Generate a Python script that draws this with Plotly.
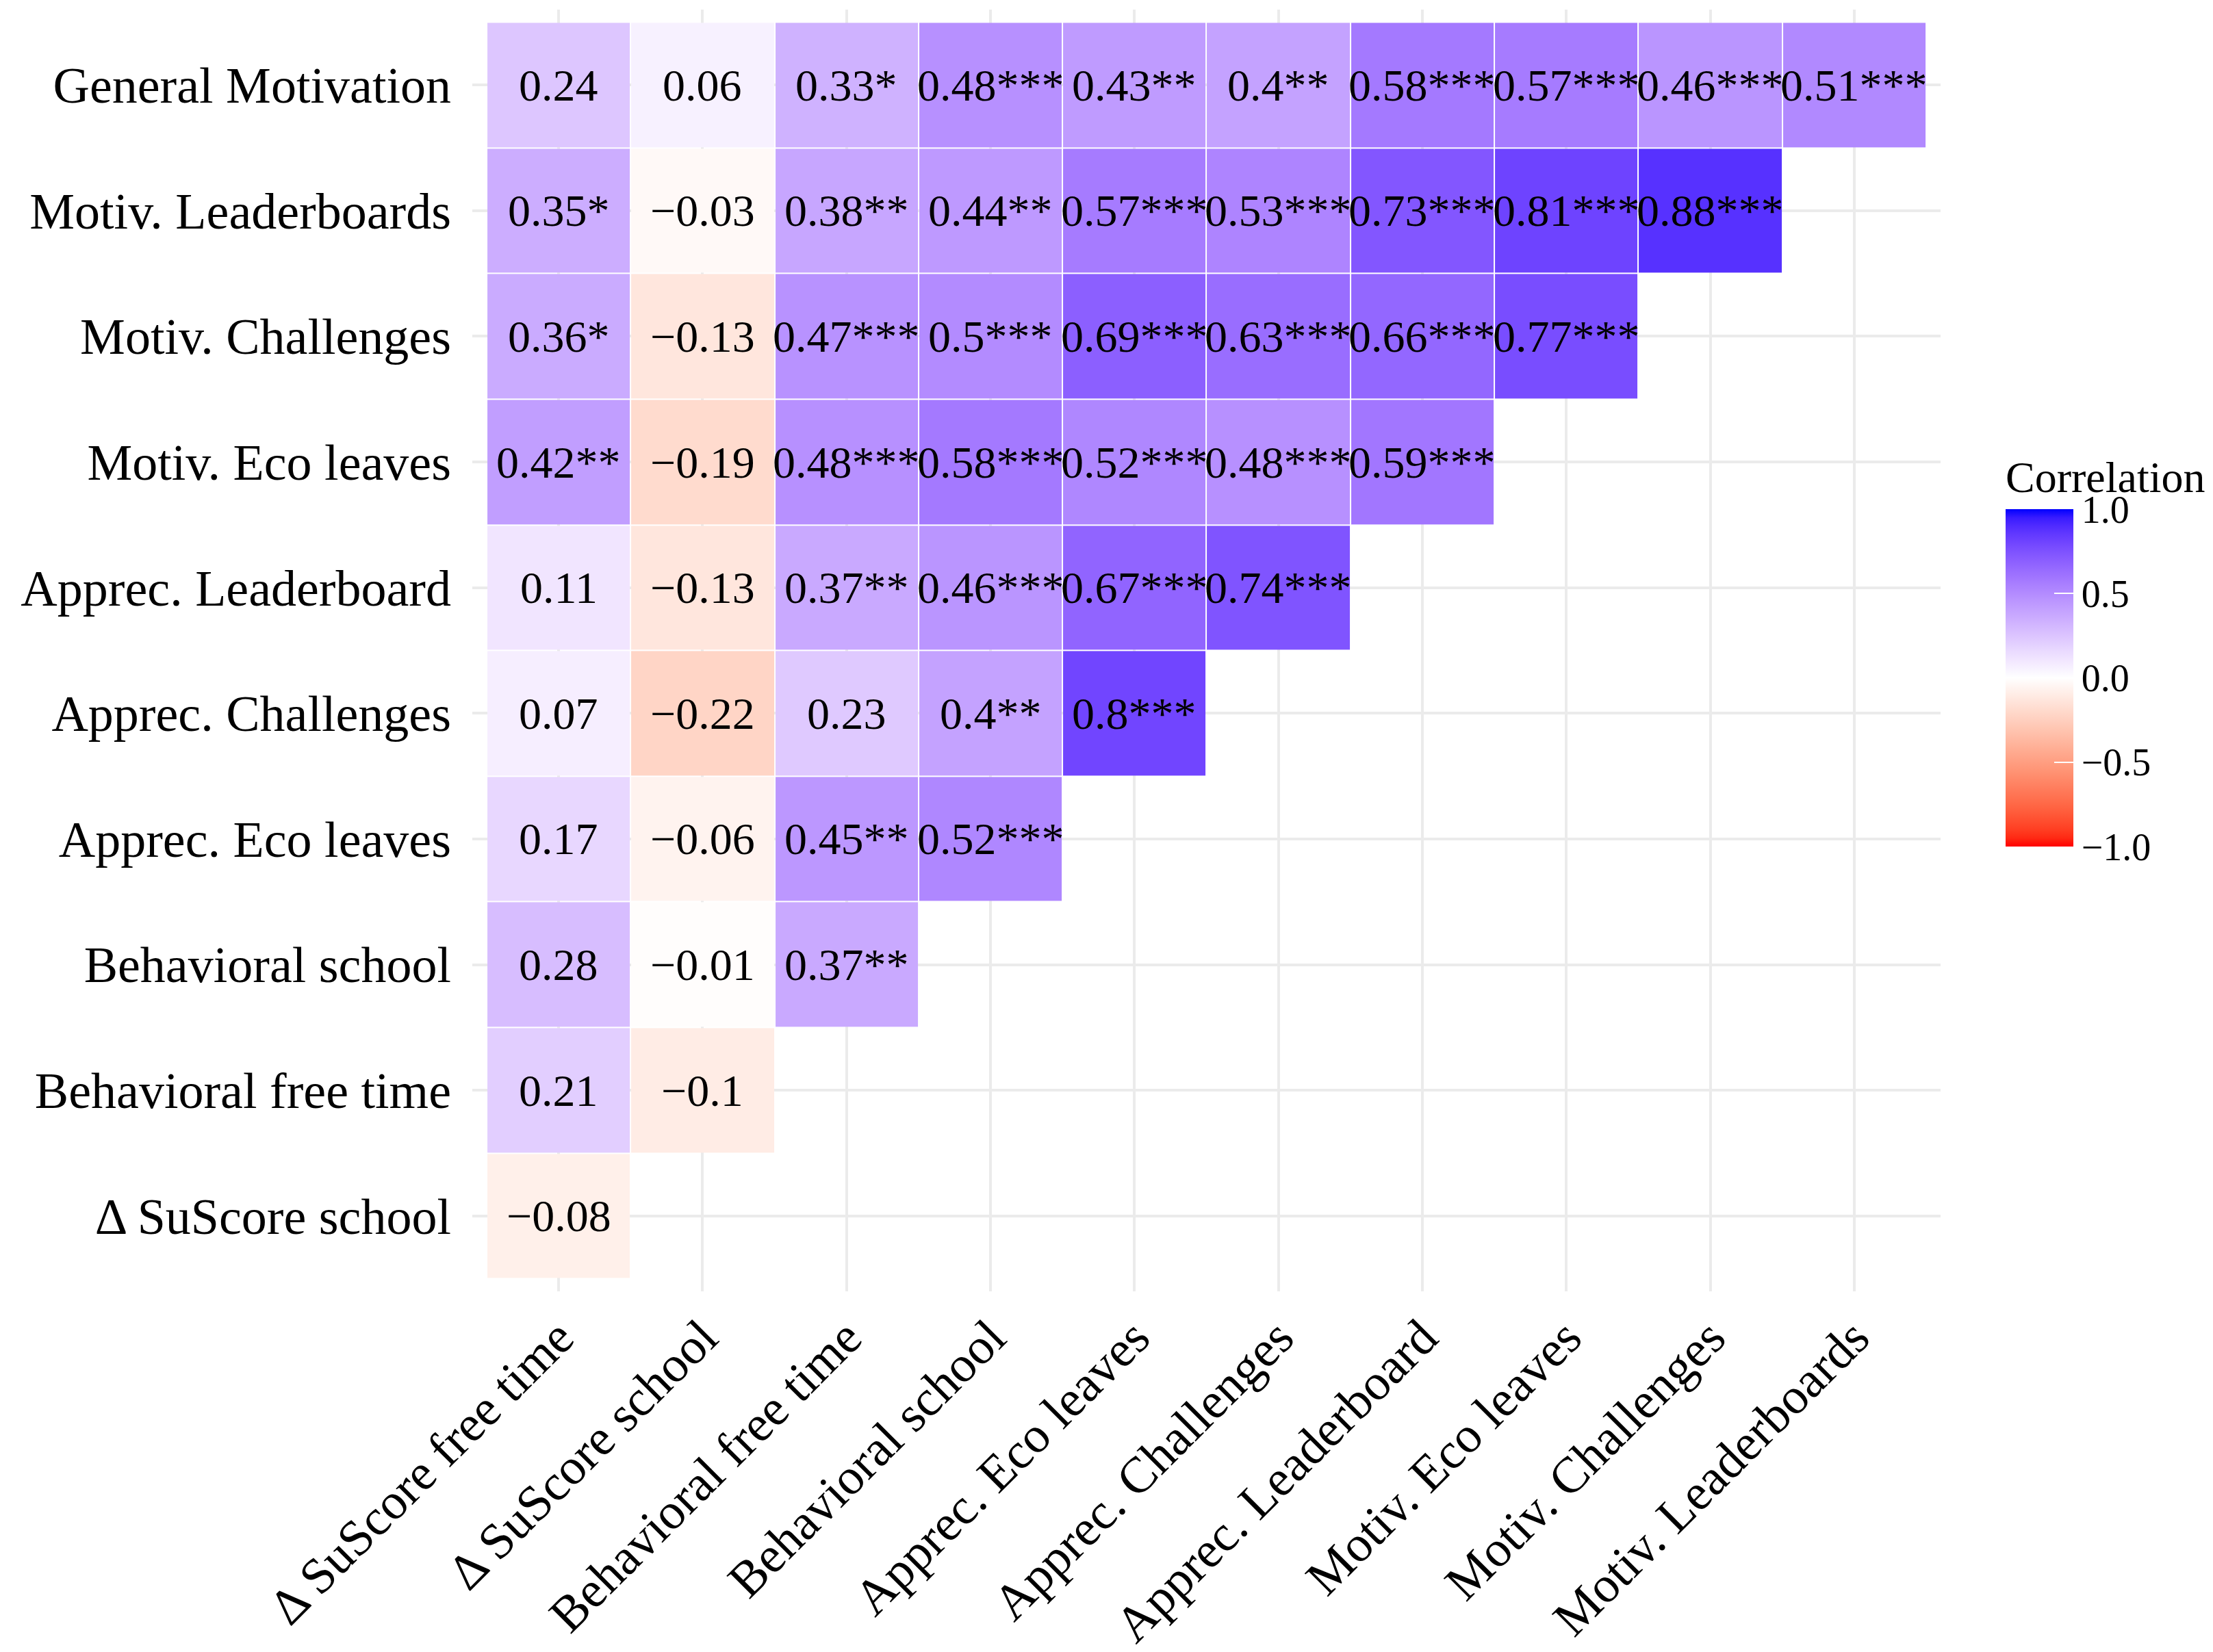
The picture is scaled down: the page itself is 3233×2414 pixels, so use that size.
import numpy as np
import plotly.graph_objects as go

# ---------------- data ----------------
row_labels = ["General Motivation", "Motiv. Leaderboards", "Motiv. Challenges",
              "Motiv. Eco leaves", "Apprec. Leaderboard", "Apprec. Challenges",
              "Apprec. Eco leaves", "Behavioral school", "Behavioral free time",
              "Δ SuScore school"]
col_labels = ["Δ SuScore free time", "Δ SuScore school", "Behavioral free time",
              "Behavioral school", "Apprec. Eco leaves", "Apprec. Challenges",
              "Apprec. Leaderboard", "Motiv. Eco leaves", "Motiv. Challenges",
              "Motiv. Leaderboards"]

r_general_motivation = [0.24, 0.06, 0.33, 0.48, 0.43, 0.40, 0.58, 0.57, 0.46, 0.51]
s_general_motivation = ["", "", "*", "***", "**", "**", "***", "***", "***", "***"]
r_motiv_leaderboards = [0.35, -0.03, 0.38, 0.44, 0.57, 0.53, 0.73, 0.81, 0.88]
s_motiv_leaderboards = ["*", "", "**", "**", "***", "***", "***", "***", "***"]
r_motiv_challenges = [0.36, -0.13, 0.47, 0.50, 0.69, 0.63, 0.66, 0.77]
s_motiv_challenges = ["*", "", "***", "***", "***", "***", "***", "***"]
r_motiv_eco = [0.42, -0.19, 0.48, 0.58, 0.52, 0.48, 0.59]
s_motiv_eco = ["**", "", "***", "***", "***", "***", "***"]
r_apprec_leader = [0.11, -0.13, 0.37, 0.46, 0.67, 0.74]
s_apprec_leader = ["", "", "**", "***", "***", "***"]
r_apprec_chall = [0.07, -0.22, 0.23, 0.40, 0.80]
s_apprec_chall = ["", "", "", "**", "***"]
r_apprec_eco = [0.17, -0.06, 0.45, 0.52]
s_apprec_eco = ["", "", "**", "***"]
r_behav_school = [0.28, -0.01, 0.37]
s_behav_school = ["", "", "**"]
r_behav_free = [0.21, -0.10]
s_behav_free = ["", ""]
r_suscore_school = [-0.08]
s_suscore_school = [""]

rows_r = [r_general_motivation, r_motiv_leaderboards, r_motiv_challenges, r_motiv_eco,
          r_apprec_leader, r_apprec_chall, r_apprec_eco, r_behav_school, r_behav_free,
          r_suscore_school]
rows_s = [s_general_motivation, s_motiv_leaderboards, s_motiv_challenges, s_motiv_eco,
          s_apprec_leader, s_apprec_chall, s_apprec_eco, s_behav_school, s_behav_free,
          s_suscore_school]

n = len(col_labels)
z = np.full((len(row_labels), n), np.nan)
tx, ty, tt = [], [], []


def fmt(v):
    s = f"{v:.2f}".rstrip("0").rstrip(".") if v != 0 else "0"
    return s.replace("-", "\u2212")


for i, (vals, stars) in enumerate(zip(rows_r, rows_s)):
    for j, (v, st) in enumerate(zip(vals, stars)):
        z[i, j] = v
        tx.append(j)
        ty.append(i)
        tt.append(fmt(v) + st)

# ---------------- colour scale (Lab interpolation red-white-blue) ----------------
def srgb_to_lin(c):
    c = c / 255.0
    return np.where(c <= 0.04045, c / 12.92, ((c + 0.055) / 1.055) ** 2.4)


def lin_to_srgb(c):
    c = np.clip(c, 0, 1)
    return 255 * np.where(c <= 0.0031308, 12.92 * c, 1.055 * c ** (1 / 2.4) - 0.055)


M = np.array([[0.4124, 0.3576, 0.1805], [0.2126, 0.7152, 0.0722], [0.0193, 0.1192, 0.9505]])
Minv = np.linalg.inv(M)
WHITE = M @ np.ones(3)


def f(t):
    d = 6 / 29
    return np.where(t > d ** 3, np.cbrt(t), t / (3 * d * d) + 4 / 29)


def finv(t):
    d = 6 / 29
    return np.where(t > d, t ** 3, 3 * d * d * (t - 4 / 29))


def rgb_to_lab(rgb):
    xyz = M @ srgb_to_lin(np.array(rgb, float)) / WHITE
    fx, fy, fz = f(xyz)
    return np.array([116 * fy - 16, 500 * (fx - fy), 200 * (fy - fz)])


def lab_to_rgb(lab):
    L, a, b = lab
    fy = (L + 16) / 116
    xyz = np.array([finv(fy + a / 500), finv(fy), finv(fy - b / 200)]) * WHITE
    return lin_to_srgb(Minv @ xyz)


low, mid, high = rgb_to_lab([255, 0, 0]), rgb_to_lab([255, 255, 255]), rgb_to_lab([0, 0, 255])
colorscale = []
K = 20
for k in range(K + 1):
    t = k / K
    lab = low + (mid - low) * t
    r, g, b = np.round(lab_to_rgb(lab)).astype(int)
    colorscale.append([0.5 * t, f"rgb({r},{g},{b})"])
for k in range(1, K + 1):
    t = k / K
    lab = mid + (high - mid) * t
    r, g, b = np.round(lab_to_rgb(lab)).astype(int)
    colorscale.append([0.5 + 0.5 * t, f"rgb({r},{g},{b})"])

# ---------------- figure ----------------
FONT = "Liberation Serif"
W, H = 3233, 2414
ml, mt = 682, 6
plot_w, plot_h = 2145, 1873
mr, mb = W - ml - plot_w, H - mt - plot_h

# colour bar geometry (page pixels, corrected for page offset)
bar_left, bar_top, bar_bottom = 2922, 742, 1229
title_h = 82

fig = go.Figure()
fig.add_trace(go.Heatmap(
    z=z, x=list(range(n)), y=list(range(len(row_labels))),
    colorscale=colorscale, zmin=-1, zmax=1,
    xgap=2, ygap=2, hoverongaps=False,
    colorbar=dict(
        title=dict(text="Correlation", side="top", font=dict(family=FONT, size=64, color="black")),
        tickvals=[-1, -0.5, 0, 0.5, 1],
        ticktext=["\u22121.0", "\u22120.5", "0.0", "0.5", "1.0"],
        tickfont=dict(family=FONT, size=56, color="black"),
        ticks="inside", ticklen=28, tickcolor="white", tickwidth=2,
        thickness=99, thicknessmode="pixels",
        len=(bar_bottom - bar_top) + title_h, lenmode="pixels",
        x=(bar_left - ml) / plot_w, xanchor="left",
        y=1 - (bar_bottom - mt) / plot_h, yanchor="bottom",
        xpad=0, ypad=0, outlinewidth=0,
    ),
))

for x_, y_, t_ in zip(tx, ty, tt):
    fig.add_annotation(
        x=x_, y=y_, xref="x", yref="y", text=t_, showarrow=False,
        font=dict(family=FONT, size=66, color="black"),
        xanchor="center", yanchor="middle", yshift=0,
    )

fig.update_layout(
    width=W, height=H,
    margin=dict(l=ml, r=mr, t=mt, b=mb, pad=0, autoexpand=False),
    paper_bgcolor="white", plot_bgcolor="white",
    font=dict(family=FONT, color="black"),
    showlegend=False,
    xaxis=dict(
        range=[-0.6, n - 0.4], tickmode="array", tickvals=list(range(n)), ticktext=col_labels,
        tickangle=-45, tickfont=dict(family=FONT, size=74, color="black"),
        showgrid=True, gridcolor="#EBEBEB", gridwidth=4, zeroline=False,
        ticks="", showline=False, ticklabelstandoff=8, automargin=False,
    ),
    yaxis=dict(
        range=[len(row_labels) - 0.4, -0.6], tickmode="array",
        tickvals=list(range(len(row_labels))), ticktext=row_labels,
        tickfont=dict(family=FONT, size=74, color="black"),
        showgrid=True, gridcolor="#EBEBEB", gridwidth=4, zeroline=False,
        ticks="", showline=False, ticklabelstandoff=30, automargin=False,
    ),
)

fig.write_html("out.html")
